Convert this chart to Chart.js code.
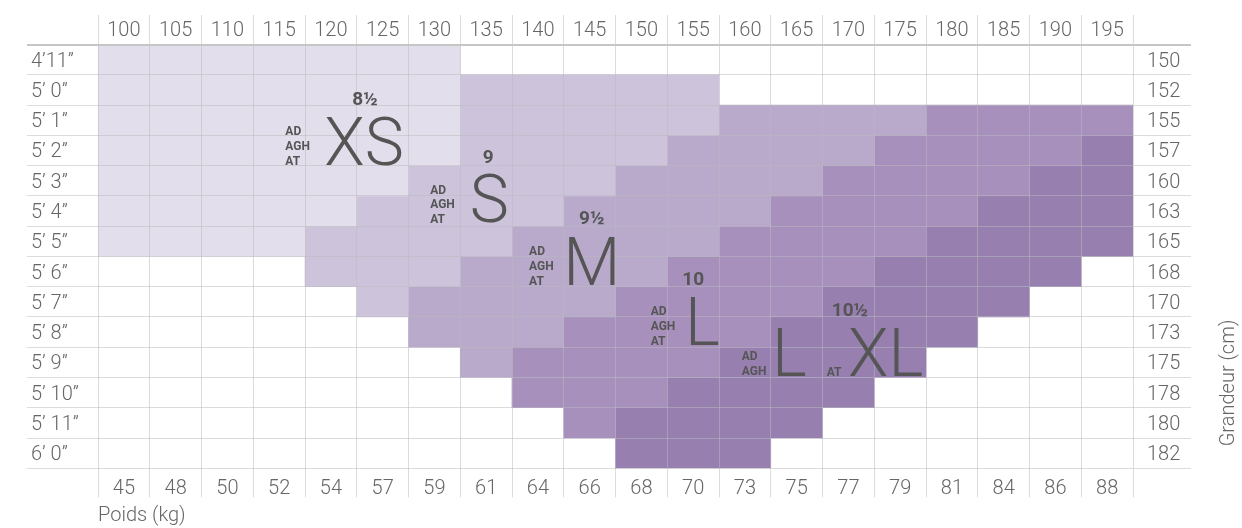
<!DOCTYPE html>
<html>
<head>
<meta charset="utf-8">
<script src="https://cdn.jsdelivr.net/npm/chart.js@4.4.1/dist/chart.umd.min.js"></script>
<style>
  html, body { margin: 0; padding: 0; background: #ffffff; }
  #wrap { width: 1242px; height: 528px; position: relative; }
</style>
</head>
<body>
<div id="wrap"><canvas id="c" width="1242" height="528"></canvas></div>
<script>
// ---- data ----
const heightsIn = ['4\u201911\u201D','5\u2019 0\u201D','5\u2019 1\u201D','5\u2019 2\u201D','5\u2019 3\u201D','5\u2019 4\u201D','5\u2019 5\u201D','5\u2019 6\u201D','5\u2019 7\u201D','5\u2019 8\u201D','5\u2019 9\u201D','5\u2019 10\u201D','5\u2019 11\u201D','6\u2019 0\u201D'];
const heightsCm = ['150','152','155','157','160','163','165','168','170','173','175','178','180','182'];
const weightsLbs = ['100','105','110','115','120','125','130','135','140','145','150','155','160','165','170','175','180','185','190','195'];
const weightsKg = ['45','48','50','52','54','57','59','61','64','66','68','70','73','75','77','79','81','84','86','88'];

const sizeNames = ['XS (8\u00BD)','S (9)','M (9\u00BD)','L (10)','L/XL (10\u00BD)'];
// weight range (lbs, inclusive) for each height row, per size
const xsRange = [[100,130],[100,130],[100,130],[100,130],[100,125],[100,120],[100,115],null,null,null,null,null,null,null];
const sRange  = [null,[135,155],[135,155],[135,150],[130,145],[125,140],[120,135],[120,130],[125,125],null,null,null,null,null];
const mRange  = [null,null,[160,175],[155,170],[150,165],[145,160],[140,155],[135,150],[130,145],[130,140],[135,135],null,null,null];
const lRange  = [null,null,[180,195],[175,190],[170,185],[165,180],[160,175],[155,170],[150,165],[145,160],[140,155],[140,150],[145,145],null];
const xlRange = [null,null,null,[195,195],[190,195],[185,195],[180,195],[175,190],[170,185],[165,180],[160,175],[155,170],[150,165],[150,160]];

// size labels placed in data coordinates (x = lbs, y = height row index)
const sizeLabels = [
  {text:['8\u00BD'], x:123.3, y:1.50, kind:'num'},
  {text:['XS'], x:123.2, y:3.48, kind:'big'},
  {text:['AD','AGH','AT'], x:115.6, y:3.48, kind:'tag'},
  {text:['9'], x:135.2, y:3.40, kind:'num'},
  {text:['S'], x:135.3, y:5.35, kind:'big'},
  {text:['AD','AGH','AT'], x:129.6, y:5.40, kind:'tag'},
  {text:['9\u00BD'], x:145.2, y:5.44, kind:'num'},
  {text:['M'], x:145.2, y:7.445, kind:'big'},
  {text:['AD','AGH','AT'], x:139.15, y:7.445, kind:'tag'},
  {text:['10'], x:155.0, y:7.445, kind:'num'},
  {text:['L'], x:155.9, y:9.43, kind:'big'},
  {text:['AD','AGH','AT'], x:150.9, y:9.43, kind:'tag'},
  {text:['10\u00BD'], x:170.15, y:8.46, kind:'num'},
  {text:['L'], x:164.3, y:10.45, kind:'big'},
  {text:['AD','AGH'], x:159.7, y:10.42, kind:'tag'},
  {text:['AT'], x:167.9, y:10.45, kind:'tag'},
  {text:['XL'], x:173.6, y:10.45, kind:'big'}
];

// ---- styles ----
const sizeColors = ['#e3deeb','#cdc4dc','#b9aacc','#a791bc','#977fb0'];
const FONT = 'Roboto, "Open Sans", "Liberation Sans", sans-serif';
const tickFont = {family: FONT, size: 20, weight: '300'};
const textColor = '#666666';
const gridOver = 'rgba(186,186,190,0.52)';
const tickCol = '#dcdcdc';
const HALF = 2.5;

const ranges = [xsRange, sRange, mRange, lRange, xlRange];
const datasets = ranges.map((r, i) => ({
  label: sizeNames[i],
  data: r.map(v => v ? [v[0] - HALF, v[1] + HALF] : null),
  backgroundColor: sizeColors[i],
  borderWidth: 0,
  barPercentage: 1,
  categoryPercentage: 1,
  grouped: false,
  xAxisID: 'x',
  yAxisID: 'y'
}));

const labelPlugin = {
  id: 'sizeLabels',
  afterDraw(chart) {
    const ctx = chart.ctx;
    const xs = chart.scales.x, ys = chart.scales.y, y2 = chart.scales.y2;
    ctx.save();
    ctx.fillStyle = '#555555';
    sizeLabels.forEach(a => {
      const px = xs.getPixelForValue(a.x);
      const py = ys.getPixelForValue(a.y);
      ctx.textBaseline = 'alphabetic';
      if (a.kind === 'big') {
        ctx.font = '300 66px ' + FONT;
        ctx.textAlign = 'center';
        ctx.fillText(a.text[0], px, py);
      } else if (a.kind === 'num') {
        ctx.font = 'bold 19px ' + FONT;
        ctx.textAlign = 'center';
        ctx.fillText(a.text[0], px, py);
      } else {
        ctx.font = 'bold 12px ' + FONT;
        ctx.textAlign = 'left';
        const n = a.text.length;
        a.text.forEach((t, k) => ctx.fillText(t, px, py - (n - 1 - k) * 14.8));
      }
    });
    // right axis title
    ctx.fillStyle = textColor;
    ctx.font = '300 20px ' + FONT;
    ctx.translate(y2.right + 38, ys.getPixelForValue(10.68));
    ctx.rotate(-Math.PI / 2);
    ctx.textAlign = 'center';
    ctx.textBaseline = 'middle';
    ctx.fillText('Grandeur (cm)', 0, 0);
    ctx.restore();
  }
};

new Chart(document.getElementById('c'), {
  type: 'bar',
  data: { labels: heightsIn, datasets },
  plugins: [labelPlugin],
  options: {
    indexAxis: 'y',
    responsive: false,
    animation: false,
    layout: { padding: { left: 31, right: 51, top: 15, bottom: 0 } },
    plugins: { legend: { display: false }, tooltip: { enabled: false } },
    scales: {
      x: { type: 'linear', min: 97.5, max: 197.5, display: false },
      xTop: {
        type: 'category', position: 'top', labels: weightsLbs, offset: true,
        grid: { offset: true, z: 1, color: gridOver, tickColor: tickCol, tickLength: 29.5 },
        border: { display: false },
        ticks: { font: tickFont, color: textColor, padding: -28, autoSkip: false, maxRotation: 0 },
        afterFit: s => { s.height = 29.5; }
      },
      xBot: {
        type: 'category', position: 'bottom', labels: weightsKg, offset: true,
        grid: { offset: true, drawOnChartArea: false, tickColor: tickCol, tickLength: 29 },
        border: { display: false },
        ticks: { font: tickFont, color: textColor, padding: -20, autoSkip: false, maxRotation: 0 },
        title: { display: true, text: 'Poids (kg)', align: 'start', color: textColor, font: tickFont, padding: { top: 0, bottom: 0 } },
        afterFit: s => { s.height = 59.7; }
      },
      y: {
        type: 'category', position: 'left', offset: true,
        grid: {
          offset: true, z: 1,
          color: c => c.index === 0 ? '#c6c6c6' : gridOver,
          tickColor: c => c.index === 0 ? '#c6c6c6' : tickCol,
          lineWidth: c => c.index === 0 ? 2 : 1,
          tickLength: 71
        },
        border: { display: false },
        ticks: { font: tickFont, color: textColor, crossAlign: 'far', autoSkip: false, labelOffset: 2 },
        afterFit: s => { s.width = 67; }
      },
      y2: {
        type: 'category', position: 'right', labels: heightsCm, offset: true,
        grid: {
          offset: true, drawOnChartArea: false,
          tickColor: c => c.index === 0 ? '#c6c6c6' : tickCol,
          lineWidth: c => c.index === 0 ? 2 : 1,
          tickLength: 58
        },
        border: { display: false },
        ticks: { font: tickFont, color: textColor, crossAlign: 'near', padding: -44, autoSkip: false, labelOffset: 2 },
        afterFit: s => { s.width = 58; }
      }
    }
  }
});
</script>
</body>
</html>
